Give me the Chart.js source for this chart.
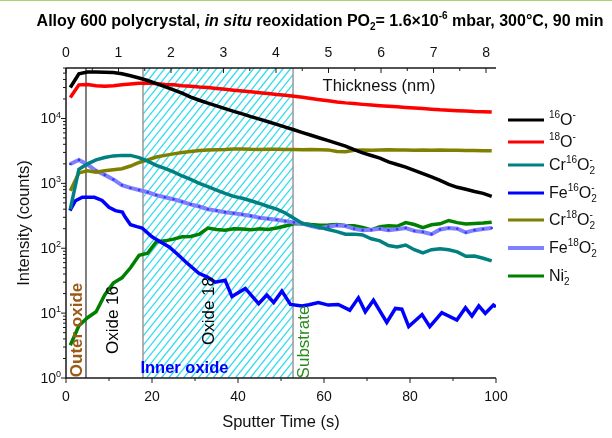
<!DOCTYPE html>
<html>
<head>
<meta charset="utf-8">
<script src="https://cdn.jsdelivr.net/npm/chart.js@4"></script>
<style>
  html, body { margin: 0; padding: 0; background: #fff; }
</style>
</head>
<body>
<canvas id="grafico" width="612" height="438"></canvas>
<script>
// tempo de sputter (s) comum às séries suaves
const tempos = [1, 3, 5, 7, 9, 11, 13, 15, 17, 19, 21, 23, 25, 27, 29, 31, 33, 35, 37, 39,
  41, 43, 45, 47, 49, 51, 53, 55, 57, 59, 61, 63, 65, 67, 69, 71, 73, 75, 77, 79,
  81, 83, 85, 87, 89, 91, 93, 95, 97, 99];

const o16 = [30000, 49000, 52000, 52000, 51500, 51000, 49000, 45500, 42000, 38500,
  34400, 30900, 27600, 24600, 21400, 19100, 17200, 15600, 14200, 12900,
  11800, 10700, 9800, 8900, 8100, 7350, 6700, 6070, 5520, 5010,
  4550, 4130, 3760, 3300, 2950, 2690, 2450, 2140, 1950, 1780,
  1590, 1410, 1260, 1110, 966, 870, 810, 750, 700, 630];

const o18 = [21000, 33000, 33500, 32000, 31500, 32000, 33000, 34000, 35000, 35000,
  34500, 33500, 33000, 32000, 31500, 30500, 30000, 29000, 28200, 27300,
  26500, 25800, 25000, 24200, 23400, 22800, 22000, 21200, 20300, 19500,
  18800, 18000, 17400, 17000, 16500, 16100, 15700, 15400, 15200, 14800,
  14500, 14200, 13900, 13600, 13400, 13200, 13000, 12800, 12700, 12600];

const cr16o2 = [400, 1650, 2000, 2300, 2500, 2650, 2700, 2700, 2500, 2200,
  1900, 1700, 1500, 1300, 1150, 1000, 890, 790, 700, 630,
  590, 540, 490, 440, 400, 350, 290, 240, 225, 210,
  195, 180, 165, 165, 160, 140, 130, 110, 105, 112,
  95, 85, 95, 98, 95, 88, 75, 76, 70, 64];

const cr18o2 = [770, 1450, 1560, 1480, 1560, 1620, 1680, 1850, 2100, 2300,
  2550, 2700, 2850, 3000, 3100, 3200, 3280, 3300, 3320, 3380,
  3400, 3350, 3330, 3350, 3360, 3340, 3320, 3300, 3320, 3300,
  3280, 3100, 3080, 3250, 3280, 3250, 3270, 3300, 3260, 3280,
  3250, 3270, 3240, 3260, 3250, 3230, 3200, 3220, 3180, 3180];

const fe18o2 = [1990, 2300, 1950, 1560, 1350, 1150, 940, 850, 790, 730,
  660, 610, 570, 520, 475, 440, 400, 380, 360, 345,
  330, 315, 295, 285, 275, 262, 250, 240, 220, 205,
  215, 225, 220, 200, 190, 192, 200, 190, 196, 205,
  185, 178, 165, 195, 205, 200, 175, 190, 198, 205];

const ni2 = [3.2, 6.4, 8.5, 10.5, 19, 29, 35, 50, 78, 84,
  125, 130, 138, 150, 152, 165, 205, 195, 190, 200,
  198, 192, 200, 195, 205, 220, 238, 240, 232, 226,
  228, 232, 224, 222, 210, 192, 215, 222, 218, 248,
  232, 208, 230, 238, 268, 248, 236, 240, 245, 252];

// Fe16O2 é muito ruidoso, tem seus próprios tempos
const temposFe16 = [0.9, 2.2, 3.8, 6.6, 8.4, 10, 11.5, 13.1, 13.8, 15,
  16.5, 17.7, 20, 22, 24, 26, 27.8, 30.9, 32.9, 34.7,
  37, 38.6, 41.7, 44.8, 46.7, 48.3, 50.2, 52.2, 54.9, 56.5,
  58.7, 61, 63.3, 66, 68, 69.6, 71.5, 74.6, 76.6, 78.1,
  79.7, 82.8, 84.6, 87.4, 90.9, 92.9, 94.4, 96, 97.5, 99.4, 100];
const fe16o2 = [380, 540, 610, 610, 545, 427, 380, 360, 300, 230,
  215, 205, 150, 125, 105, 80, 62, 41, 36, 30,
  32, 18, 24, 14, 19, 14.6, 21.8, 13.6, 12.9, 13.5,
  14.6, 13.3, 13.6, 11.1, 17.2, 10.5, 15.8, 7.2, 11.8, 11.5,
  6.2, 9.5, 6.2, 10.2, 7.8, 12.1, 9, 12.9, 9.9, 13.3, 12.5];

// limites das regiões (s)
const limiteExterno = 4.65;
const inicioHachura = 17.9;
const fimHachura = 52.8;
const espessuraMax = 8.19; // nm no fim do eixo superior

const rotulosTicksX = [0, 20, 40, 60, 80, 100];
const rotulosTicksTopo = [0, 1, 2, 3, 4, 5, 6, 7, 8];
const decadas = [0, 1, 2, 3, 4];

const FONTE = '"Liberation Sans", Arial, sans-serif';

function pares(xs, ys) {
  return xs.map((x, i) => ({ x: x, y: ys[i] }));
}

// texto com sobrescrito / subscrito
function desenhaRico(ctx, partes, x, y, alinh, tam, negrito) {
  const fonte = (it, esc) => (it ? 'italic ' : '') + (negrito ? 'bold ' : '') + Math.round(tam * esc) + 'px ' + FONTE;
  let largura = 0;
  const medidas = partes.map(p => {
    let w;
    if (p.t === undefined) {
      ctx.font = fonte(false, 0.64);
      w = Math.max(ctx.measureText(p.sup || '').width, ctx.measureText(p.sub || '').width);
    } else {
      ctx.font = fonte(p.i, 1);
      w = ctx.measureText(p.t).width;
    }
    largura += w;
    return w;
  });
  let cx = alinh === 'center' ? x - largura / 2 : (alinh === 'right' ? x - largura : x);
  ctx.textAlign = 'left';
  ctx.textBaseline = 'alphabetic';
  partes.forEach((p, k) => {
    if (p.t === undefined) {
      ctx.font = fonte(false, 0.64);
      if (p.sup) ctx.fillText(p.sup, cx, y - tam * 0.42);
      if (p.sub) ctx.fillText(p.sub, cx, y + tam * 0.28);
    } else {
      ctx.font = fonte(p.i, 1);
      ctx.fillText(p.t, cx, y);
    }
    cx += medidas[k];
  });
}

function textoVertical(ctx, txt, x, y, cor, fonte) {
  ctx.save();
  ctx.translate(x, y);
  ctx.rotate(-Math.PI / 2);
  ctx.fillStyle = cor;
  ctx.font = fonte;
  ctx.textAlign = 'center';
  ctx.textBaseline = 'middle';
  ctx.fillText(txt, 0, 0);
  ctx.restore();
}

const series = [
  { nome: [{ sup: '16' }, { t: 'O' }, { sup: '-' }], cor: '#000000', xs: tempos, ys: o16 },
  { nome: [{ sup: '18' }, { t: 'O' }, { sup: '-' }], cor: '#ff0000', xs: tempos, ys: o18 },
  { nome: [{ t: 'Cr' }, { sup: '16' }, { t: 'O' }, { sup: '-', sub: '2' }], cor: '#008080', xs: tempos, ys: cr16o2 },
  { nome: [{ t: 'Fe' }, { sup: '16' }, { t: 'O' }, { sup: '-', sub: '2' }], cor: '#0000ff', xs: temposFe16, ys: fe16o2 },
  { nome: [{ t: 'Cr' }, { sup: '18' }, { t: 'O' }, { sup: '-', sub: '2' }], cor: '#808000', xs: tempos, ys: cr18o2 },
  { nome: [{ t: 'Fe' }, { sup: '18' }, { t: 'O' }, { sup: '-', sub: '2' }], cor: '#8080ff', xs: tempos, ys: fe18o2 },
  { nome: [{ t: 'Ni' }, { sup: '-', sub: '2' }], cor: '#008000', xs: tempos, ys: ni2 }
];
const linhasLegenda = [120, 142, 165, 193, 220, 248, 276];

const fundoHachurado = {
  id: 'fundoHachurado',
  beforeDatasetsDraw(chart) {
    const ctx = chart.ctx, ca = chart.chartArea, xs = chart.scales.x;
    const x1 = xs.getPixelForValue(inicioHachura), x2 = xs.getPixelForValue(fimHachura);
    ctx.save();
    ctx.beginPath();
    ctx.rect(x1, ca.top, x2 - x1, ca.bottom - ca.top);
    ctx.clip();
    ctx.strokeStyle = '#33dcee';
    ctx.lineWidth = 1.3;
    const h = ca.bottom - ca.top;
    const dx = h / 1.25;
    for (let x = x1 - dx; x < x2 + 10; x += 7.4) {
      ctx.beginPath();
      ctx.moveTo(x, ca.bottom);
      ctx.lineTo(x + dx, ca.top);
      ctx.stroke();
    }
    ctx.restore();

    ctx.save();
    ctx.strokeStyle = '#999';
    ctx.lineWidth = 1.5;
    [x1, x2].forEach(x => {
      ctx.beginPath(); ctx.moveTo(x, ca.top); ctx.lineTo(x, ca.bottom); ctx.stroke();
    });
    const xe = xs.getPixelForValue(limiteExterno);
    ctx.strokeStyle = '#000';
    ctx.lineWidth = 1;
    ctx.beginPath(); ctx.moveTo(xe, ca.top); ctx.lineTo(xe, ca.bottom); ctx.stroke();
    ctx.restore();
  }
};

const eixosETextos = {
  id: 'eixosETextos',
  afterDraw(chart) {
    const ctx = chart.ctx, ca = chart.chartArea;
    const xs = chart.scales.x, ys = chart.scales.y, xt = chart.scales.x2;
    ctx.save();

    // faixa verde no topo da figura
    ctx.fillStyle = '#a8d46f';
    ctx.fillRect(0, 0, 612, 1);

    ctx.strokeStyle = '#1a1a1a';
    ctx.lineWidth = 1.5;
    ctx.beginPath();
    ctx.moveTo(ca.left, ca.top); ctx.lineTo(ca.left, ca.bottom); ctx.lineTo(ca.right, ca.bottom);
    ctx.moveTo(ca.left, ca.top); ctx.lineTo(ca.right, ca.top);
    ctx.stroke();

    ctx.lineWidth = 1;
    ctx.beginPath();
    // ticks de baixo
    for (let v = 0; v <= 100; v += 10) {
      const px = xs.getPixelForValue(v);
      const len = v % 20 === 0 ? 5 : 3;
      ctx.moveTo(px, ca.bottom); ctx.lineTo(px, ca.bottom + len);
    }
    // ticks do topo (para dentro)
    for (let v = 0; v <= espessuraMax; v += 0.5) {
      const px = xt.getPixelForValue(v);
      const len = v % 1 === 0 ? 5 : 3;
      ctx.moveTo(px, ca.top); ctx.lineTo(px, ca.top + len);
    }
    // ticks log
    decadas.forEach(d => {
      for (let m = 1; m <= 9; m++) {
        const val = m * Math.pow(10, d);
        if (val > ys.max) break;
        const py = ys.getPixelForValue(val);
        const len = m === 1 ? 5 : 3;
        ctx.moveTo(ca.left, py); ctx.lineTo(ca.left - len, py);
      }
    });
    ctx.stroke();

    ctx.fillStyle = '#111';
    ctx.font = '14px ' + FONTE;
    ctx.textAlign = 'center';
    ctx.textBaseline = 'middle';
    rotulosTicksX.forEach(v => ctx.fillText(String(v), xs.getPixelForValue(v), ca.bottom + 19));
    rotulosTicksTopo.forEach(v => ctx.fillText(String(v), xt.getPixelForValue(v), ca.top - 15));
    decadas.forEach(d => {
      desenhaRico(ctx, [{ t: '10' }, { sup: String(d) }], ca.left - 5, ys.getPixelForValue(Math.pow(10, d)) + 5, 'right', 14, false);
    });

    // títulos dos eixos
    ctx.font = '16.5px ' + FONTE;
    ctx.textAlign = 'center';
    ctx.textBaseline = 'middle';
    ctx.fillText('Sputter Time (s)', (ca.left + ca.right) / 2, 422);
    ctx.fillText('Thickness (nm)', 379, 86);
    textoVertical(ctx, 'Intensity (counts)', 24, (ca.top + ca.bottom) / 2, '#111', '16.5px ' + FONTE);

    // título
    ctx.fillStyle = '#000';
    desenhaRico(ctx, [
      { t: 'Alloy 600 polycrystal, ' }, { t: 'in situ', i: true }, { t: ' reoxidation PO' }, { sub: '2' },
      { t: '= 1.6\u00d710' }, { sup: '-6' }, { t: ' mbar, 300\u00b0C, 90 min' }
    ], 320, 26, 'center', 16, true);

    // anotações das regiões
    textoVertical(ctx, 'Outer oxide', xs.getPixelForValue(2.6), ca.bottom - 48, '#9b5a18', 'bold 17px ' + FONTE);
    textoVertical(ctx, 'Oxide 16', xs.getPixelForValue(11.1), ca.bottom - 58, '#000', '17px ' + FONTE);
    textoVertical(ctx, 'Oxide 18', xs.getPixelForValue(33.3), ca.bottom - 67, '#000', '17px ' + FONTE);
    textoVertical(ctx, 'Substrate', xs.getPixelForValue(55.4), ca.bottom - 36, '#2a8a1e', '17px ' + FONTE);
    ctx.fillStyle = '#0000ff';
    ctx.font = 'bold 16.5px ' + FONTE;
    ctx.textAlign = 'left';
    ctx.textBaseline = 'middle';
    ctx.fillText('Inner oxide', xs.getPixelForValue(17.3), ca.bottom - 10);

    // legenda
    series.forEach((s, i) => {
      const y = linhasLegenda[i];
      ctx.strokeStyle = s.cor;
      ctx.lineWidth = s.cor === '#8080ff' ? 4 : 3;
      ctx.beginPath(); ctx.moveTo(508, y); ctx.lineTo(544, y); ctx.stroke();
      ctx.fillStyle = '#111';
      desenhaRico(ctx, s.nome, 549, y + 5, 'left', 16, false);
    });

    ctx.restore();
  }
};

const grafico = new Chart(document.getElementById('grafico'), {
  type: 'line',
  data: {
    datasets: series.map(s => ({
      data: pares(s.xs, s.ys),
      borderColor: s.cor,
      backgroundColor: s.cor,
      borderWidth: s.cor === '#8080ff' ? 4 : 3.5,
      pointRadius: s.cor === '#8080ff' ? 1.3 : 0,
      pointBackgroundColor: '#3a3aff',
      pointBorderWidth: 0,
      tension: 0,
      fill: false
    }))
  },
  plugins: [fundoHachurado, eixosETextos],
  options: {
    responsive: false,
    animation: false,
    devicePixelRatio: 1,
    layout: { padding: { left: 66, right: 116, top: 68, bottom: 60 } },
    plugins: { legend: { display: false }, tooltip: { enabled: false } },
    scales: {
      x: { type: 'linear', min: 0, max: 100, display: false },
      x2: { type: 'linear', position: 'top', min: 0, max: espessuraMax, display: false },
      y: { type: 'logarithmic', min: 1, max: 60000, display: false }
    }
  }
});
</script>
</body>
</html>
